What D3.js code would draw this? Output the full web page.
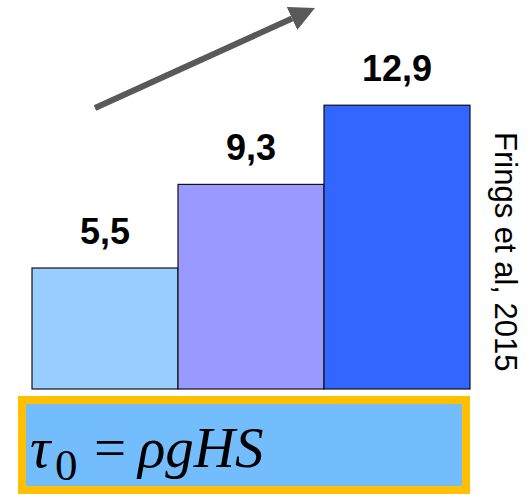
<!DOCTYPE html>
<html>
<head>
<meta charset="utf-8">
<script src="https://cdn.jsdelivr.net/npm/d3@7"></script>
<style>
  html, body { margin: 0; padding: 0; background: #fff; }
  svg { display: block; }
</style>
</head>
<body>
<script>
const categories = ["a", "b", "c"];
const values = [5.5, 9.3, 12.9];
const valueLabels = ["5,5", "9,3", "12,9"];
const barColors = ["#99CCFF", "#9999FF", "#3366FF"];
const sourceText = "Frings et al, 2015";

const W = 531, H = 495;
const svg = d3.select("body").append("svg").attr("width", W).attr("height", H);

const x = d3.scaleBand().domain(categories).range([32, 470]).padding(0);
const y = d3.scaleLinear().domain([0, 15]).range([389, 59]);

// arrow
const defs = svg.append("defs");
defs.append("marker")
  .attr("id", "ah").attr("viewBox", "0 0 10 10")
  .attr("refX", 0).attr("refY", 5)
  .attr("markerWidth", 4.2).attr("markerHeight", 4.2)
  .attr("markerUnits", "strokeWidth")
  .attr("orient", "auto")
  .append("path").attr("d", "M0,0 L10,5 L0,10 Z").attr("fill", "#595959");

svg.append("line")
  .attr("x1", 95).attr("y1", 108).attr("x2", 292).attr("y2", 18.5)
  .attr("stroke", "#595959").attr("stroke-width", 6)
  .attr("marker-end", "url(#ah)");

// bars
svg.selectAll("rect.bar").data(values).join("rect")
  .attr("class", "bar")
  .attr("x", (d, i) => x(categories[i]))
  .attr("y", d => y(d))
  .attr("width", x.bandwidth())
  .attr("height", d => y(0) - y(d))
  .attr("fill", (d, i) => barColors[i])
  .attr("stroke", "#111").attr("stroke-width", 1.2);

// value labels
svg.selectAll("text.val").data(values).join("text")
  .attr("class", "val")
  .attr("x", (d, i) => x(categories[i]) + x.bandwidth() / 2)
  .attr("y", d => y(d) - 24)
  .attr("text-anchor", "middle")
  .attr("font-family", "Liberation Sans, Arial, sans-serif")
  .attr("font-weight", "bold")
  .attr("font-size", 36)
  .attr("fill", "#000")
  .text((d, i) => valueLabels[i]);

// source text, rotated
svg.append("text")
  .attr("transform", "translate(495,132) rotate(90)")
  .attr("font-family", "Liberation Sans, Arial, sans-serif")
  .attr("font-size", 31)
  .attr("fill", "#000")
  .text(sourceText);

// formula box
svg.append("rect")
  .attr("x", 22).attr("y", 400).attr("width", 444).attr("height", 90)
  .attr("fill", "#73BDFD").attr("stroke", "#FFC000").attr("stroke-width", 8);

const serif = "Liberation Serif, Times New Roman, serif";
svg.append("text").attr("x", 30).attr("y", 467)
  .attr("font-family", serif).attr("font-style", "italic").attr("font-size", 57)
  .text("τ");
svg.append("text").attr("x", 55).attr("y", 480)
  .attr("font-family", serif).attr("font-size", 45)
  .text("0");
svg.append("text").attr("x", 94).attr("y", 467)
  .attr("font-family", serif).attr("font-size", 57)
  .text("=");
svg.append("text").attr("x", 138).attr("y", 467)
  .attr("font-family", serif).attr("font-style", "italic").attr("font-size", 57)
  .text("ρgHS");
</script>
</body>
</html>
